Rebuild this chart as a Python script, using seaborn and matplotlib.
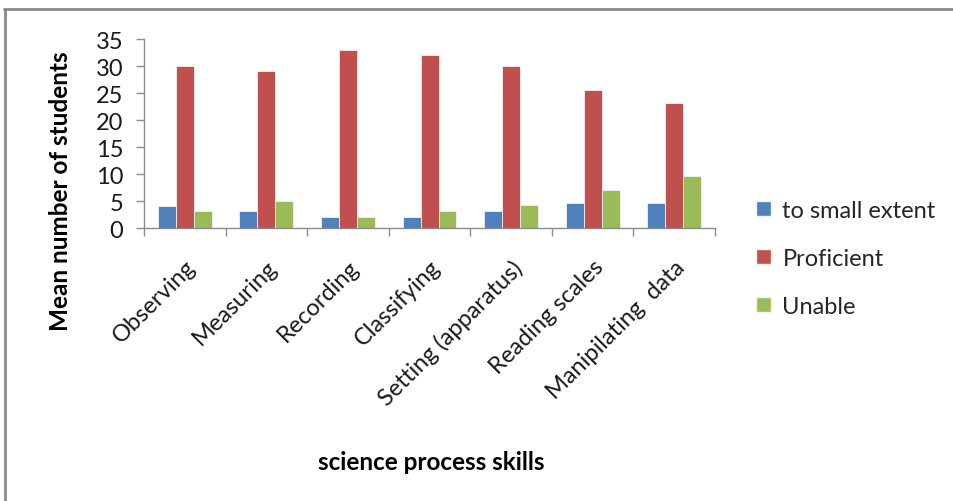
import numpy as np
import pandas as pd
import matplotlib
matplotlib.use("Agg")
import matplotlib.pyplot as plt
from matplotlib.lines import Line2D
from matplotlib.patches import Patch
import seaborn as sns

# Science process skills and mean number of students per response group
skills = ["Observing", "Measuring", "Recording", "Classifying",
          "Setting (apparatus)", "Reading scales", "Manipilating  data"]
small_extent = [4.1, 3.2, 2.0, 2.0, 3.2, 4.7, 4.7]
proficient = [30.0, 29.0, 33.0, 32.0, 30.0, 25.5, 23.2]
unable = [3.2, 5.0, 2.0, 3.2, 4.2, 7.0, 9.6]
groups = ["to small extent", "Proficient", "Unable"]
yticks = [0, 5, 10, 15, 20, 25, 30, 35]

df = pd.DataFrame({
    "skill": skills * 3,
    "group": [groups[0]] * 7 + [groups[1]] * 7 + [groups[2]] * 7,
    "value": small_extent + proficient + unable,
})

sns.set_theme(style="white")
plt.rcParams["font.family"] = ["Lato", "DejaVu Sans"]

palette = {"to small extent": "#4F81BD", "Proficient": "#C0504D", "Unable": "#9BBB59"}

fig = plt.figure(figsize=(9.54, 5.02), dpi=100)
ax = fig.add_axes([0.151, 0.5438, 0.5985, 0.3765])

sns.barplot(data=df, x="skill", y="value", hue="group", order=skills,
            hue_order=groups, palette=palette, width=0.66, gap=0,
            saturation=1, ax=ax, legend=False,
            edgecolor="#f2f2f2", linewidth=0.6)

ax.set_ylim(0, 35)
ax.set_xlim(-0.5, len(skills) - 0.5)
ax.set_yticks(yticks)
ax.set_yticklabels([str(t) for t in yticks], fontsize=17, color="#1a1a1a")

ax.set_xticks(np.arange(len(skills)))
ax.set_xticklabels(skills, rotation=45, ha="right", rotation_mode="anchor",
                   fontsize=17, color="#1a1a1a")
ax.set_xticks(np.arange(-0.5, len(skills)), minor=True)
ax.tick_params(axis="x", which="major", length=0, pad=20)
ax.tick_params(axis="x", which="minor", length=6, width=1, color="#8c8c8c",
               direction="out", bottom=True)
ax.tick_params(axis="y", which="major", length=6, width=1, color="#8c8c8c",
               direction="out", left=True, pad=9)

for side in ["top", "right"]:
    ax.spines[side].set_visible(False)
for side in ["left", "bottom"]:
    ax.spines[side].set_color("#8c8c8c")
    ax.spines[side].set_linewidth(1)

ax.set_xlabel("")
ax.set_ylabel("")
fig.text(0.063, 0.62, "Mean number of students", rotation=90, ha="center",
         va="center", fontsize=17.5, fontweight="bold", color="#000000")
fig.text(0.452, 0.079, "science process skills", ha="center", va="center",
         fontsize=17.5, fontweight="bold", color="#000000")

handles = [Patch(facecolor=palette[g], edgecolor="#f2f2f2", label=g) for g in groups]
fig.legend(handles=handles, loc="center left", bbox_to_anchor=(0.783, 0.483),
           frameon=False, fontsize=17, handlelength=0.6, handleheight=0.6,
           handletextpad=0.5, labelspacing=1.15, borderaxespad=0)

# Outer chart frame (top and left edges)
fig.add_artist(Line2D([0.004, 1.0], [0.98, 0.98], transform=fig.transFigure,
                      color="#8a8a8a", linewidth=2))
fig.add_artist(Line2D([0.005, 0.005], [0.0, 0.98], transform=fig.transFigure,
                      color="#8a8a8a", linewidth=2))

fig.savefig("out.png", dpi=100, facecolor="white")
